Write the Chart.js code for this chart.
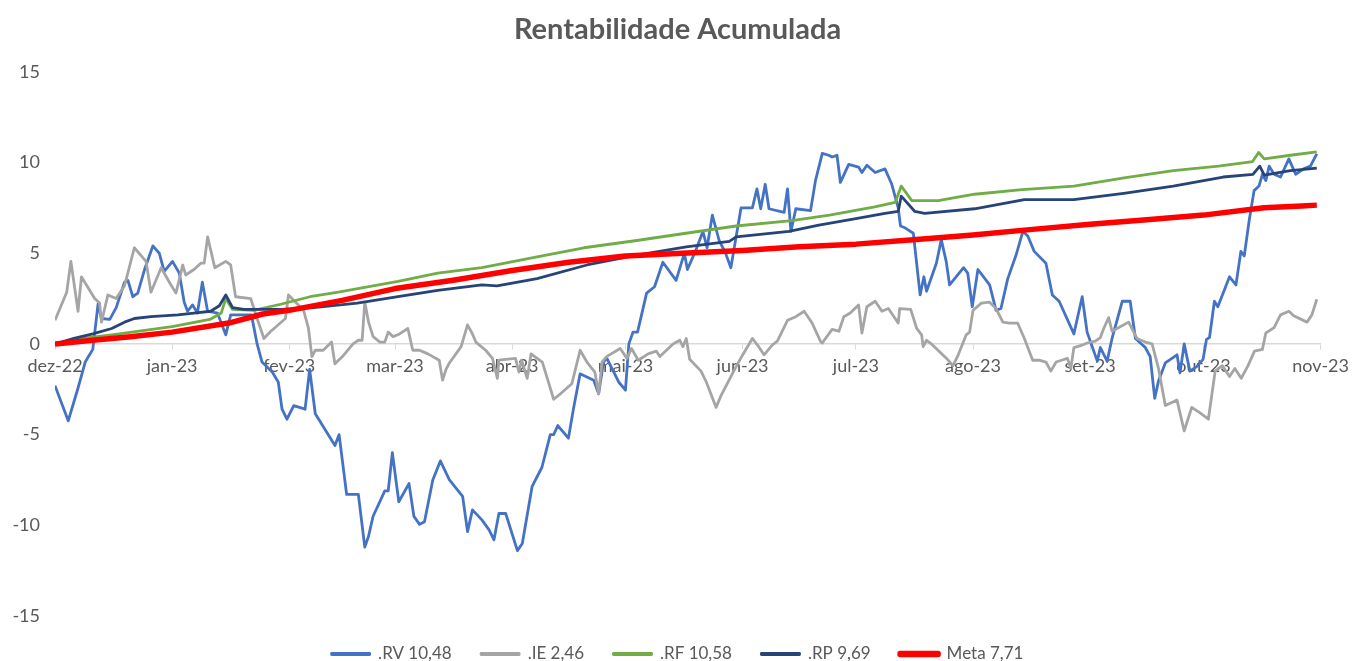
<!DOCTYPE html>
<html>
<head>
<meta charset="utf-8">
<title>Rentabilidade Acumulada</title>
<script src="https://cdn.jsdelivr.net/npm/chart.js@4"></script>
<style>
  body { margin: 0; background: #ffffff; }
</style>
</head>
<body>
<canvas id="grafico" width="1355" height="661"></canvas>
<script>
// month ticks: days counted from 1 dec 2022
var monthDays = [0, 31, 62, 90, 121, 151, 182, 212, 243, 274, 304, 335];
var monthLabels = ["dez-22", "jan-23", "fev-23", "mar-23", "abr-23", "mai-23", "jun-23", "jul-23", "ago-23", "set-23", "out-23", "nov-23"];

var rvDays = [0, 3.5, 6, 8, 10, 11.4, 12.3, 14.5, 16.2, 18.4, 19.3, 20.6, 21.9, 23.7, 25.9, 27.6, 28.9, 31.1, 32.9, 34.2,
  35.1, 36.4, 37.7, 39, 40.4, 43, 45.2, 46.5, 52, 53.5, 54.8, 57.5, 59.1, 60.1, 61.4, 63.2, 66.2, 67.4, 68.9, 74.1,
  75.2, 77.2, 80.3, 82, 83, 84.2, 87.3, 88.2, 89.3, 91, 93.7, 95, 96.5, 97.8, 100, 102, 104.4, 107.9, 109.2, 110.5,
  113, 114.9, 116.2, 117.5, 119.3, 122.4, 123.7, 126.3, 128.9, 131.1, 132, 133.1, 135.9, 137.3, 139, 142.6, 143.9, 145.2, 146.1, 149.2,
  151, 151.9, 153, 154.2, 156.6, 158.7, 160.9, 164.4, 166.6, 167.4, 169.5, 171.5, 172.6, 174, 175.8, 177.5, 178.9, 181.6, 184.6, 185.8,
  186.8, 188, 189, 193, 193.9, 194.8, 196.1, 200, 201.3, 203.1, 204.8, 205.7, 207, 207.9, 210.1, 212.7, 213.6, 214.9, 217.1, 219.7,
  221.5, 223.2, 223.8, 225, 227.2, 229, 230, 230.7, 233.3, 234.6, 235.9, 236.8, 240.5, 241.6, 242.8, 244.3, 247.4, 249.1, 250.4, 252.2,
  254.4, 256.2, 257.5, 259.2, 262.3, 264, 265.8, 269.7, 271.9, 273.2, 275.9, 276.7, 278.5, 279.8, 282.5, 284.6, 286, 288.6, 289.9, 291.1,
  292.1, 293.9, 297, 297.8, 298.9, 300.4, 302.2, 303.9, 304.8, 305.6, 306.9, 307.8, 310.9, 312.6, 313.9, 314.8, 316.1, 317.4, 318.7, 319.6,
  320.5, 321.4, 322.7, 324.4, 326.6, 328.4, 330.5, 332.3, 334];
var rvValues = [-2.3, -4.24, -2.5, -1.0, -0.3, 2.2, 1.4, 1.35, 2.0, 3.4, 3.5, 2.6, 2.8, 4.1, 5.4, 5.0, 4.0, 4.55, 3.9, 2.3,
  1.8, 2.15, 1.7, 3.4, 1.8, 1.7, 0.5, 1.6, 1.6, 0.0, -1.0, -1.55, -2.1, -3.6, -4.15, -3.4, -3.6, -1.4, -3.85, -5.6,
  -5.0, -8.3, -8.3, -11.2, -10.6, -9.5, -8.1, -8.1, -6.0, -8.7, -7.7, -9.5, -9.95, -9.8, -7.5, -6.45, -7.5, -8.4, -10.35, -9.15,
  -9.7, -10.25, -10.8, -9.35, -9.35, -11.4, -11.0, -7.85, -6.8, -5.0, -5.0, -4.5, -5.2, -3.5, -1.65, -2.0, -2.75, -1.0, -0.8, -2.1,
  -2.55, 0.0, 0.65, 0.65, 2.8, 3.15, 4.5, 3.5, 5.0, 4.1, 5.1, 6.2, 5.3, 7.1, 5.7, 5.0, 4.2, 7.5, 7.5, 8.55,
  7.45, 8.8, 7.45, 7.25, 8.55, 6.2, 7.45, 7.35, 9.0, 10.5, 10.4, 10.3, 10.4, 8.9, 9.9, 9.75, 9.45, 9.85, 9.45, 9.65,
  8.8, 7.5, 6.5, 6.4, 6.1, 2.7, 3.7, 2.9, 4.45, 5.75, 4.55, 3.25, 4.2, 3.9, 2.05, 4.1, 3.25, 1.85, 1.95, 3.6,
  4.9, 6.2, 5.95, 5.1, 4.45, 2.7, 2.35, 0.55, 2.6, 0.65, -0.95, -0.2, -0.95, 0.3, 2.35, 2.35, 0.3, -0.2, -0.7, -3.0,
  -2.05, -1.05, -0.6, -1.6, 0.0, -1.5, -1.25, -0.85, 0.25, 0.35, 2.35, 2.05, 3.7, 3.25, 5.1, 4.85, 6.8, 8.45, 8.7, 9.35,
  9.0, 9.8, 9.35, 9.2, 10.2, 9.35, 9.65, 9.8, 10.48];

var ieDays = [0, 3.1, 4.2, 6.1, 7, 10.5, 11.8, 12.3, 14, 16.2, 18.4, 21, 24.1, 25.4, 28.1, 30.7, 32, 32.9, 33.8, 34.6,
  36.8, 38.6, 39.5, 40.4, 42.3, 45.2, 46.5, 47.8, 51.8, 53.5, 55.3, 57, 61, 61.8, 65.8, 67.1, 68, 68.9, 71, 73.2,
  74.1, 76.3, 78.9, 80.3, 81.3, 82, 83, 84.2, 86, 87.3, 88.2, 89.5, 91.2, 93.4, 94.7, 96.5, 98.7, 101.7, 102.6, 103.5,
  104.4, 107.5, 109.2, 110.5, 111.4, 114, 115.8, 117.1, 117.5, 121.9, 122.8, 123.5, 125, 126, 129, 132, 133.8, 136.8, 139, 140.8,
  142.9, 143.9, 144.8, 146, 149.6, 151.4, 152.6, 154.4, 157, 159.2, 160.1, 163.6, 165.4, 166.2, 167.1, 168, 171, 172.4, 175, 176.3,
  179.8, 181.9, 184.6, 185.9, 187.7, 189.9, 191.2, 193.9, 196.1, 198.3, 200.4, 202.6, 203.1, 205.7, 207.5, 208.8, 210.5, 212.7, 213.6, 214.9,
  217.1, 218.9, 220.6, 223.2, 223.6, 226.5, 228.1, 229.4, 229.8, 230.7, 232, 236, 237.7, 239.1, 241.2, 242.1, 243, 245.2, 247.4, 249.1,
  250.9, 252.6, 254.8, 256.6, 258.8, 260.5, 262.3, 263.6, 265, 266.4, 268, 268.9, 269.7, 271.5, 273.2, 275.4, 276.7, 277.6, 278.9, 279.8,
  281.6, 284.2, 286.4, 288.6, 290.4, 292.1, 293.9, 297, 298.9, 300.9, 303.1, 305.3, 307.1, 309, 310.9, 312.3, 314, 315.8, 317.5, 319.6,
  320.5, 322.7, 324.4, 326.6, 327.9, 331.4, 332.7, 334];
var ieValues = [1.3, 2.85, 4.55, 1.8, 3.7, 2.5, 2.25, 1.2, 2.7, 2.5, 3.2, 5.3, 4.55, 2.85, 4.2, 3.25, 2.8, 3.55, 4.35, 3.8,
  4.1, 4.45, 4.45, 5.9, 4.2, 4.55, 4.35, 2.6, 2.5, 1.4, 0.3, 0.67, 1.4, 2.7, 1.85, 0.85, -0.7, -0.35, -0.35, 0.1,
  -1.1, -0.65, 0.0, 0.2, 0.2, 2.3, 1.2, 0.4, 0.1, 0.1, 0.65, 0.4, 0.55, 0.85, -0.35, -0.35, -0.55, -0.9, -2.0, -1.4,
  -1.05, -0.15, 1.05, 0.55, 0.1, -0.35, -0.8, -1.9, -0.9, -0.8, -1.55, -0.9, -1.9, -0.55, -1.0, -3.05, -2.75, -2.2, -0.35, -1.0,
  -1.55, -2.75, -1.0, -0.7, -0.25, -0.8, -0.25, -0.9, -0.55, -0.4, -0.7, 0.0, 0.2, -0.15, 0.3, -0.85, -1.5, -2.1, -3.5, -2.85,
  -1.45, -0.65, 0.3, -0.05, -0.6, -0.05, 0.15, 1.3, 1.5, 1.8, 1.15, 0.15, 0.05, 0.8, 0.7, 1.5, 1.7, 2.15, 0.6, 2.05,
  2.35, 1.8, 1.95, 1.15, 1.95, 1.9, 0.85, 0.5, -0.15, 0.2, 0.0, -0.8, -1.2, -0.6, 0.5, 0.65, 1.85, 2.25, 2.3, 1.95,
  1.2, 1.15, 1.15, 0.3, -0.9, -0.9, -1.0, -1.5, -1.0, -0.9, -0.8, -1.35, -0.2, -0.1, 0.05, 0.15, 0.35, 0.85, 1.45, 0.7,
  0.9, 1.2, 0.3, 0.1, 0.0, -1.35, -3.4, -3.1, -4.8, -3.5, -3.8, -4.15, -1.5, -1.2, -1.8, -1.35, -1.9, -1.2, -0.4, -0.3,
  0.6, 0.9, 1.6, 1.8, 1.55, 1.2, 1.6, 2.46];

var rfDays = [0, 5, 15, 31, 41, 44, 45.2, 47, 52.6, 60, 67.5, 75, 90.8, 101.3, 113, 127.6, 140, 154, 167, 180.3,
  195, 205, 217, 222.4, 224, 226.8, 233.8, 243.4, 256, 269.7, 283, 296, 308, 317, 318.6, 320.1, 327, 334];
var rfValues = [0, 0.25, 0.5, 0.95, 1.35, 1.7, 2.5, 1.9, 1.85, 2.2, 2.6, 2.85, 3.45, 3.9, 4.2, 4.8, 5.3, 5.7, 6.1, 6.5,
  6.8, 7.1, 7.55, 7.8, 8.7, 7.9, 7.9, 8.25, 8.5, 8.7, 9.15, 9.55, 9.8, 10.05, 10.55, 10.2, 10.4, 10.58];

var rpDays = [0, 5, 10, 15, 18.4, 21, 25.4, 32.5, 36.8, 41.2, 43.5, 45.2, 47, 50, 53.9, 60, 68.4, 80, 90.8, 101.3,
  113, 117, 127.6, 140.8, 154, 167.1, 178.5, 180.3, 194.3, 202.2, 212, 219.7, 223.2, 224, 227.6, 230.2, 243.4, 256.6, 269.7, 282.9,
  296, 309.2, 317.1, 318.9, 320.1, 327, 334];
var rpValues = [0, 0.3, 0.55, 0.85, 1.2, 1.4, 1.5, 1.6, 1.7, 1.8, 2.1, 2.7, 2.0, 1.9, 1.9, 1.9, 2.0, 2.25, 2.6, 2.95,
  3.25, 3.2, 3.6, 4.35, 4.9, 5.35, 5.65, 5.9, 6.2, 6.55, 6.9, 7.2, 7.3, 8.15, 7.3, 7.2, 7.45, 7.95, 7.95, 8.3,
  8.7, 9.2, 9.35, 9.8, 9.3, 9.55, 9.69];

var metaDays = [0, 10, 20, 31, 46, 55, 62, 76, 90, 105, 121, 136, 151, 166, 182, 197, 212, 228, 243, 258,
  274, 289, 304, 320, 330, 334];
var metaValues = [0, 0.2, 0.4, 0.65, 1.15, 1.65, 1.85, 2.4, 3.05, 3.5, 4.05, 4.5, 4.85, 5.0, 5.15, 5.35, 5.5, 5.75, 6.0, 6.3,
  6.6, 6.85, 7.1, 7.5, 7.6, 7.65];

var seriesNames = [".RV 10,48", ".IE 2,46", ".RF 10,58", ".RP 9,69", "Meta 7,71"];
var seriesColors = ["#4472C4", "#A5A5A5", "#70AD47", "#264478", "#FF0000"];

function pontos(dias, valores) {
  return dias.map(function (d, i) { return { x: d, y: valores[i] }; });
}

function serie(i, dados, largura, ordem) {
  return {
    label: seriesNames[i],
    data: dados,
    borderColor: seriesColors[i],
    backgroundColor: seriesColors[i],
    borderWidth: largura,
    pointRadius: 0,
    tension: 0,
    borderJoinStyle: "round",
    order: ordem
  };
}

Chart.defaults.font.family = "Lato";
Chart.defaults.color = "#595959";

var ctx = document.getElementById("grafico").getContext("2d");

var grafico = new Chart(ctx, {
  type: "line",
  data: {
    datasets: [
      serie(0, pontos(rvDays, rvValues), 2.8, 5),
      serie(1, pontos(ieDays, ieValues), 2.8, 4),
      serie(2, pontos(rfDays, rfValues), 2.8, 3),
      serie(3, pontos(rpDays, rpValues), 2.8, 2),
      serie(4, pontos(metaDays, metaValues), 5.5, 1)
    ]
  },
  options: {
    responsive: false,
    animation: false,
    devicePixelRatio: 1,
    layout: { padding: { top: 0, left: 0, right: 0, bottom: -11.5 } },
    scales: {
      x: {
        type: "linear",
        position: { y: 0 },
        min: 0,
        max: 335,
        afterBuildTicks: function (scale) {
          scale.ticks = monthDays.map(function (d) { return { value: d }; });
        },
        ticks: {
          autoSkip: false,
          maxRotation: 0,
          padding: 6,
          font: { size: 18 },
          callback: function (v) { return monthLabels[monthDays.indexOf(v)]; }
        },
        grid: { drawOnChartArea: false, color: "#D9D9D9", tickLength: 5 },
        border: { color: "#D9D9D9", width: 1.5 }
      },
      y: {
        min: -15,
        max: 15,
        afterFit: function (scale) { scale.width = 55; },
        ticks: { stepSize: 5, padding: 7, font: { size: 18 } },
        grid: { display: false },
        border: { display: false }
      }
    },
    plugins: {
      title: {
        display: true,
        text: "Rentabilidade Acumulada",
        color: "#595959",
        font: { size: 29, weight: "bold" },
        padding: { top: 12, bottom: 25 }
      },
      legend: {
        position: "bottom",
        labels: {
          boxWidth: 38,
          boxHeight: 1,
          padding: 29.5,
          font: { size: 17 },
          sort: function (a, b) { return a.datasetIndex - b.datasetIndex; }
        }
      },
      tooltip: { enabled: false }
    }
  }
});
</script>
</body>
</html>
